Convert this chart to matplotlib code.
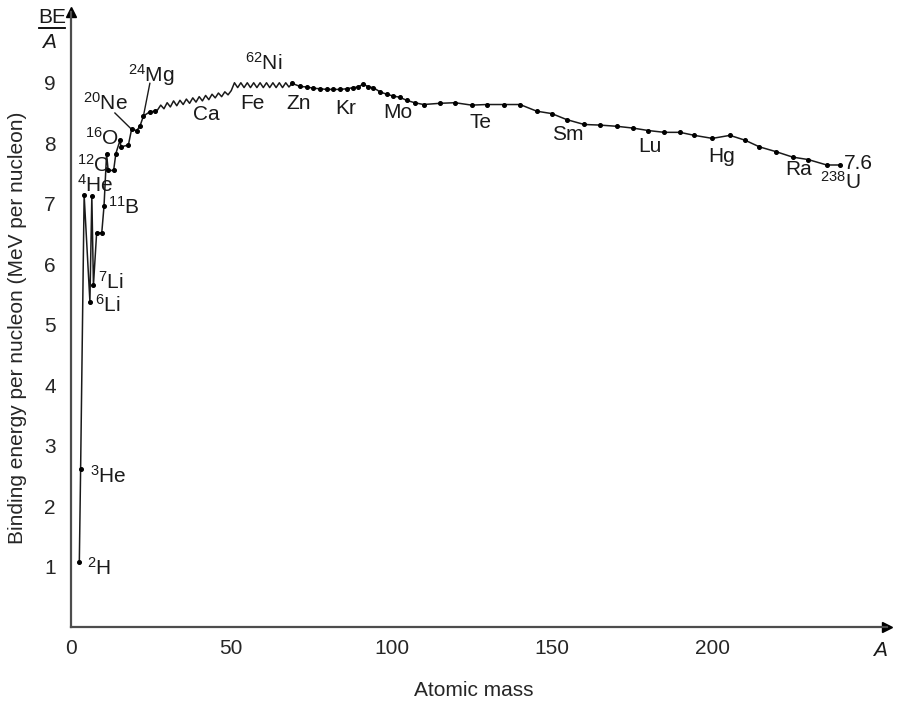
import numpy as np
import matplotlib.pyplot as plt
from matplotlib.lines import Line2D

plt.rcParams["font.family"] = ["Liberation Sans", "DejaVu Sans"]
plt.rcParams["mathtext.fontset"] = "custom"
plt.rcParams["mathtext.rm"] = "Liberation Sans"
plt.rcParams["mathtext.it"] = "Liberation Sans:italic"
plt.rcParams["mathtext.default"] = "regular"

# curve (atomic mass, MeV per nucleon)
mass_light = [2.6, 3.0, 4.1, 5.9, 6.5, 7.0, 8.0, 9.6, 10.3, 11.1, 11.6, 13.3,
              14.0, 15.3, 15.6, 17.9, 18.9, 20.5, 21.5, 22.6, 24.6, 26.2]
be_light = [1.08, 2.61, 7.14, 5.38, 7.13, 5.65, 6.52, 6.52, 6.96, 7.82, 7.55, 7.55,
            7.83, 8.05, 7.94, 7.97, 8.23, 8.21, 8.28, 8.45, 8.52, 8.53]

mass_zigzag = [27, 28, 29, 30, 31, 32, 33, 34, 35, 36, 37, 38, 39, 40, 41, 42,
               43, 44, 45, 46, 47, 48, 49, 50, 51, 52, 53, 54, 55, 56, 57, 58,
               59, 60, 61, 62, 63, 64, 65, 66, 67, 68]
be_zigzag = [8.55, 8.63, 8.57, 8.67, 8.60, 8.70, 8.62, 8.71, 8.64, 8.73, 8.66, 8.75,
             8.68, 8.77, 8.70, 8.79, 8.72, 8.81, 8.75, 8.83, 8.77, 8.85, 8.80, 8.87,
             9.00, 8.92, 9.00, 8.92, 9.00, 8.92, 9.00, 8.92, 9.00, 8.92, 9.00, 8.92,
             9.00, 8.92, 9.00, 8.92, 9.00, 8.93]

mass_heavy = [69.0, 71.4, 73.5, 75.6, 77.7, 79.8, 81.8, 83.9, 86.0, 88.1, 89.6,
              91.2, 92.8, 94.3, 96.4, 98.5, 100.6, 102.6, 104.7, 107.2, 110.0,
              115.1, 119.8, 125.0, 129.7, 135.1, 140.1, 145.3, 150.0, 154.7,
              160.1, 165.0, 170.3, 175.4, 180.1, 185.1, 190.0, 194.5, 200.1,
              205.6, 210.3, 214.8, 220.0, 225.2, 230.0, 235.8, 239.9]
be_heavy = [8.99, 8.94, 8.93, 8.91, 8.90, 8.89, 8.89, 8.89, 8.90, 8.92, 8.93,
            8.98, 8.93, 8.92, 8.85, 8.81, 8.78, 8.76, 8.71, 8.67, 8.64,
            8.66, 8.67, 8.63, 8.64, 8.64, 8.64, 8.53, 8.49, 8.39,
            8.31, 8.30, 8.28, 8.25, 8.21, 8.18, 8.18, 8.13, 8.08,
            8.13, 8.05, 7.94, 7.86, 7.77, 7.73, 7.64, 7.64]

# nuclide / element labels: text, A, BE (left edge, baseline)
labels = [
    (r"$^{2}$H", 5.0, 0.86), (r"$^{3}$He", 5.9, 2.38), (r"$^{6}$Li", 7.5, 5.21),
    (r"$^{7}$Li", 8.4, 5.59), (r"$^{11}$B", 11.5, 6.84), (r"$^{4}$He", 1.9, 7.20),
    (r"$^{12}$C", 1.9, 7.53), (r"$^{16}$O", 4.4, 7.97), (r"$^{20}$Ne", 3.7, 8.55),
    (r"$^{24}$Mg", 17.8, 9.01), ("Ca", 38.1, 8.38), (r"$^{62}$Ni", 54.3, 9.21),
    ("Fe", 52.7, 8.57), ("Zn", 67.1, 8.57), ("Kr", 82.4, 8.49), ("Mo", 97.3, 8.41),
    ("Te", 124.2, 8.26), ("Sm", 150.0, 8.05), ("Lu", 176.9, 7.86),
    ("Hg", 198.8, 7.69), ("Ra", 222.8, 7.47), (r"$^{238}$U", 233.7, 7.25),
    ("7.6", 241.2, 7.57),
]
leaders = [((13.7, 8.50), (18.9, 8.23)), ((24.6, 8.99), (22.6, 8.45))]

x_ticks = [0, 50, 100, 150, 200]
y_ticks = [1, 2, 3, 4, 5, 6, 7, 8, 9]

mass = np.array(mass_light + mass_zigzag + mass_heavy)
be = np.array(be_light + be_zigzag + be_heavy)
dotted = (mass < 27) | (mass > 68.5)

fs = 15
fig = plt.figure(figsize=(9, 7.06), dpi=100)
ax = fig.add_axes([71 / 900, 79 / 706, 816 / 900, 615 / 706])
ax.set_xlim(0, 254.6)
ax.set_ylim(0, 10.17)

ax.plot(mass, be, color="0.1", lw=1.1, zorder=3)
ax.plot(mass[dotted], be[dotted], "o", color="black", ms=2.6, zorder=4)

for (x0, y0), (x1, y1) in leaders:
    ax.plot([x0, x1], [y0, y1], color="0.1", lw=1.0)

for txt, x, y in labels:
    ax.text(x, y, txt, fontsize=fs, ha="left", va="baseline", color="0.1")

for side in ["top", "right"]:
    ax.spines[side].set_visible(False)
for side in ["left", "bottom"]:
    ax.spines[side].set_color("0.3")
    ax.spines[side].set_linewidth(1.6)
ax.plot(1, 0, ">", color="black", ms=7, transform=ax.transAxes, clip_on=False)
ax.plot(0, 1, "^", color="black", ms=7, transform=ax.transAxes, clip_on=False)

ax.set_xticks(x_ticks)
ax.set_yticks(y_ticks)
ax.tick_params(length=0, labelsize=fs, colors="0.15")
ax.tick_params(axis="x", pad=9)
ax.tick_params(axis="y", pad=11)

ax.text(1.0, -0.038, "A", transform=ax.transAxes, fontsize=fs, style="italic",
        ha="right", va="center", color="0.1")

fig.text(474 / 900, 1 - 691 / 706, "Atomic mass", fontsize=fs, ha="center",
         va="center", color="0.15")
fig.text(18 / 900, 1 - 328 / 706, "Binding energy per nucleon (MeV per nucleon)",
         fontsize=fs, rotation=90, ha="center", va="center", color="0.15")

# BE / A fraction at the top of the y axis
fig.text(52 / 900, 1 - 17.5 / 706, "BE", fontsize=fs, ha="center", va="center",
         color="0.1")
fig.add_artist(Line2D([39 / 900, 65 / 900], [1 - 28 / 706, 1 - 28 / 706],
                      color="black", lw=1.3))
fig.text(49 / 900, 1 - 42 / 706, "A", fontsize=fs, style="italic",
         ha="center", va="center", color="0.1")

fig.savefig("out.png", dpi=100)
